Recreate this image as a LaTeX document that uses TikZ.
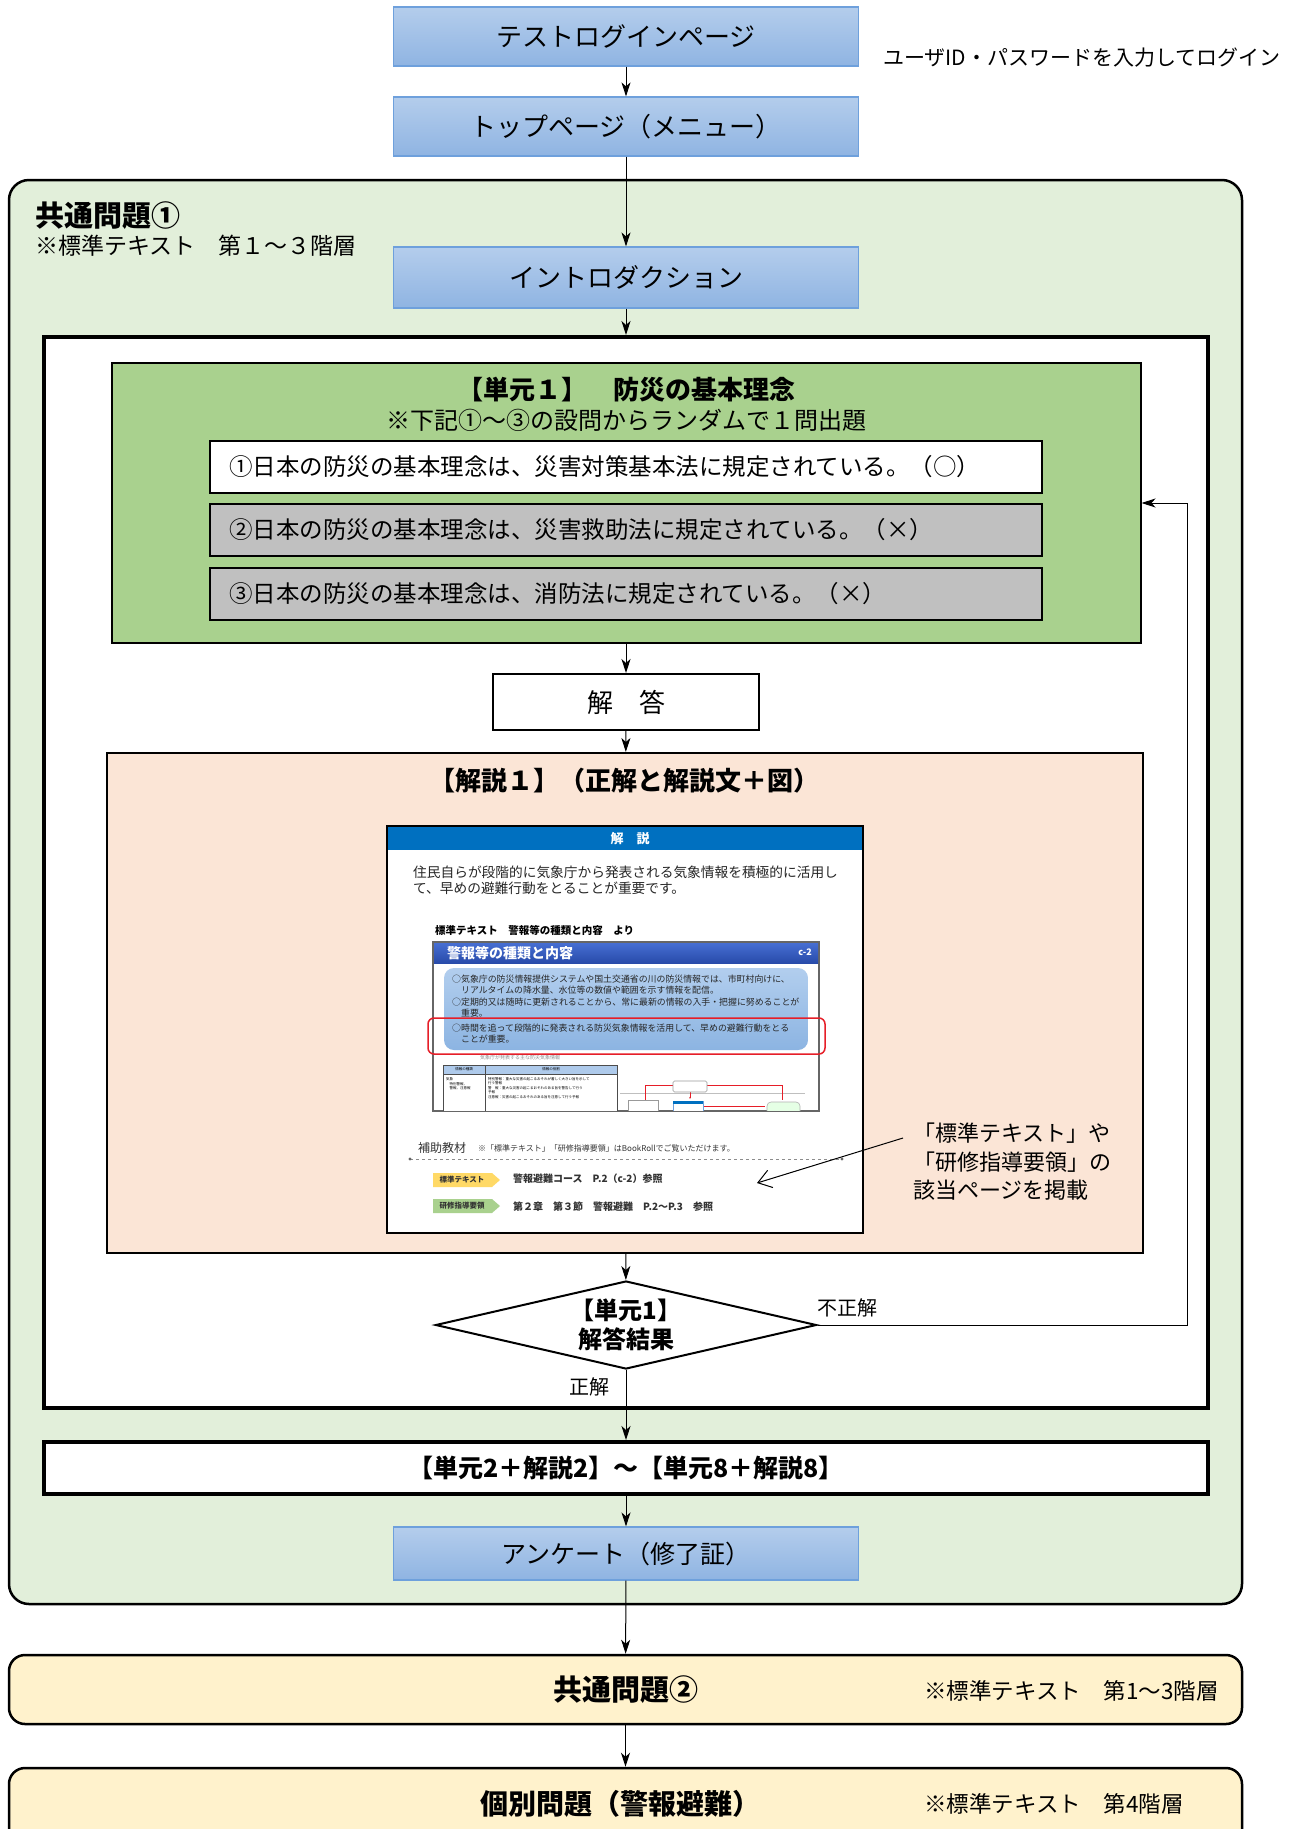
\documentclass[tikz,border=0pt]{standalone}
\usepackage{fontspec}
\setmainfont{Noto Sans CJK JP}
\usetikzlibrary{arrows.meta,shapes.geometric}

\definecolor{bluetop}{RGB}{180,205,236}
\definecolor{bluebot}{RGB}{143,180,226}
\definecolor{blueline}{RGB}{110,160,220}
\definecolor{framegreen}{RGB}{226,239,218}
\definecolor{unitgreen}{RGB}{169,209,142}
\definecolor{optgray}{RGB}{192,192,192}
\definecolor{notepeach}{RGB}{251,229,214}
\definecolor{laneyellow}{RGB}{255,242,204}
\definecolor{shotblue}{RGB}{0,112,192}
\definecolor{shotheadtop}{RGB}{70,110,210}
\definecolor{shotheadbot}{RGB}{40,75,170}
\definecolor{shotpaletop}{RGB}{178,206,238}
\definecolor{shotpalebot}{RGB}{140,180,226}
\definecolor{shotred}{RGB}{230,30,40}
\definecolor{tagyellow}{RGB}{255,217,102}
\definecolor{taggreen}{RGB}{169,209,142}

\newcommand\fsz[2]{\fontsize{#1}{#2}\selectfont}

\begin{document}
\begin{tikzpicture}[x=1pt, y=-1pt,
    bluebox/.style={draw=blueline, line width=1.2pt, top color=bluetop, bottom color=bluebot, minimum width=465pt, minimum height=59pt, inner sep=0pt, font=\fsz{26}{30}},
    plainbox/.style={draw, line width=2pt, fill=white, inner sep=0pt},
    optbox/.style={draw, line width=2pt, fill=optgray, minimum width=832pt, minimum height=52pt, inner xsep=19pt, inner ysep=0pt, text width=794pt, align=left, font=\fsz{23.5}{28}},
    lane/.style={draw, line width=2.5pt, rounded corners=16pt, fill=laneyellow, minimum width=1233pt, minimum height=69pt, inner sep=0pt},
    arr/.style={-{Stealth[length=14pt, width=9pt, inset=4pt]}, line width=1pt},
    lbl/.style={inner sep=0pt, font=\fsz{20}{24}},
    shottxt/.style={inner sep=0pt, anchor=west, align=left}]

\useasboundingbox (0,0) rectangle (1304,1829);
\clip (0,0) rectangle (1304,1829);

% login and menu
\node[bluebox] (login) at (626,36.5) {テストログインページ};
\node[anchor=west, inner sep=0pt, font=\fsz{21}{25}] (loginnote) at (883,58) {ユーザID・パスワードを入力してログイン};
\node[bluebox] (menu) at (626,126.5) {トップページ（メニュー）};

% common part 1
\node[draw, line width=2.5pt, rounded corners=20pt, fill=framegreen, minimum width=1233pt, minimum height=1424pt] (common1) at (625.5,892) {};
\node[anchor=west, inner sep=0pt, font=\bfseries\fsz{29}{34}] (c1title) at (35,216) {共通問題①};
\node[anchor=west, inner sep=0pt, font=\fsz{23}{26}] (c1note) at (35,246) {※標準テキスト　第１～３階層};
\node[bluebox, minimum height=61pt] (intro) at (626,277.5) {イントロダクション};

\node[plainbox, line width=4pt, minimum width=1164pt, minimum height=1071pt] (unitframe) at (626,872.5) {};

% unit 1 questions
\node[plainbox, fill=unitgreen, minimum width=1029pt, minimum height=280pt] (unit1) at (626,503) {};
\node[inner sep=0pt, font=\bfseries\fsz{26}{30}] (unit1title) at (626,390) {【単元１】　防災の基本理念};
\node[inner sep=0pt, font=\fsz{24}{28}] (unit1sub) at (626,420) {※下記①～③の設問からランダムで１問出題};
\node[optbox, fill=white] (q1) at (626,467) {①日本の防災の基本理念は、災害対策基本法に規定されている。（○）};
\node[optbox] (q2) at (626,530) {②日本の防災の基本理念は、災害救助法に規定されている。（×）};
\node[optbox] (q3) at (626,593.5) {③日本の防災の基本理念は、消防法に規定されている。（×）};

\node[plainbox, minimum width=266pt, minimum height=56pt, font=\fsz{26}{30}] (answer) at (626,702) {解　答};

% explanation
\node[plainbox, fill=notepeach, minimum width=1036pt, minimum height=500pt] (expl) at (625,1003) {};
\node[inner sep=0pt, font=\bfseries\fsz{26}{30}] (expltitle) at (624,781) {【解説１】（正解と解説文＋図）};

% explanation slide
\node[draw, line width=1.5pt, fill=white, minimum width=476pt, minimum height=407pt, inner sep=0pt] (slide) at (625,1029.5) {};
\fill[shotblue] (388,827) rectangle (862,850);
\node[inner sep=0pt, text=white, font=\bfseries\fsz{13}{15}] (slidehead) at (630,839) {解　説};
\node[shottxt, text=black!85, font=\fsz{13.7}{16}] (slidetext) at (413,880) {住民自らが段階的に気象庁から発表される気象情報を積極的に活用し\\て、早めの避難行動をとることが重要です。};
\node[shottxt, font=\bfseries\fsz{10.5}{12}] (slidesrc) at (435,930) {標準テキスト　警報等の種類と内容　より};
\draw[black!60, line width=1.5pt, fill=white] (433,942) rectangle (819,1111);
\shade[top color=shotheadtop, bottom color=shotheadbot] (434,943) rectangle (818,963);
\node[shottxt, text=white, font=\bfseries\fsz{14}{16}] (pagetitle) at (447,953) {警報等の種類と内容};
\node[inner sep=0pt, anchor=east, text=white, font=\bfseries\fsz{9}{11}] (pageno) at (812,952) {c-2};
\shade[top color=shotpaletop, bottom color=shotpalebot, rounded corners=10pt] (444,968) rectangle (808,1050);
\node[shottxt, text=black!85, font=\fsz{8.9}{11.6}] (bullets) at (452,1009) {○気象庁の防災情報提供システムや国土交通省の川の防災情報では、市町村向けに、\\　リアルタイムの降水量、水位等の数値や範囲を示す情報を配信。\\○定期的又は随時に更新されることから、常に最新の情報の入手・把握に努めることが\\　重要。\\[2.5pt]○時間を追って段階的に発表される防災気象情報を活用して、早めの避難行動をとる\\　ことが重要。};
\draw[shotred, line width=1.5pt, rounded corners=6pt] (428,1018) rectangle (825,1054);
\node[shottxt, text=black!45, font=\fsz{5}{6}] (tablecap) at (480,1058) {気象庁が発表する主な防災気象情報};
\begin{scope}
  \clip (433,1060) rectangle (819,1110.5);
  \draw[black!70, line width=0.8pt, fill=white] (443,1065) rectangle (617,1120);
  \fill[shotpalebot!70] (443.5,1065.5) rectangle (616.5,1074);
  \draw[black!70, line width=0.8pt] (443,1074) -- (617,1074) (485,1065) -- (485,1120);
  \node[inner sep=0pt, font=\fsz{3.5}{4}] (th1) at (464,1069.5) {情報の種類};
  \node[inner sep=0pt, font=\fsz{3.5}{4}] (th2) at (551,1069.5) {情報の役割};
  \node[shottxt, font=\fsz{3.5}{4.4}] (td1) at (446,1084) {気象\\　特別警報、\\　警報、注意報};
  \node[shottxt, font=\fsz{3.5}{4.6}] (td2) at (488,1088) {特別警報：重大な災害の起こるおそれが著しく大きい旨を示して\\行う警報\\警　報：重大な災害の起こるおそれのある旨を警告して行う\\予報\\注意報：災害の起こるおそれのある旨を注意して行う予報};
  \draw[black!25, line width=0.6pt] (620,1093) -- (805,1093);
  \draw[shotred, line width=0.8pt] (645,1110) -- (645,1085) -- (673,1085) (707,1085) -- (782,1085) -- (782,1100);
  \draw[shotred, line width=0.6pt, -{Stealth[length=2pt]}] (690,1092) -- (690,1099);
  \draw[shotred, line width=0.8pt] (703,1106) -- (765,1106);
  \draw[black!40, line width=0.6pt, fill=white, rounded corners=1.5pt] (673,1081) rectangle (707,1092);
  \draw[blueline, line width=0.8pt, fill=white] (673,1101) rectangle (703,1112);
  \fill[shotblue] (673,1101) rectangle (703,1104);
  \draw[black!40, line width=0.6pt, fill=white] (628,1100) rectangle (658,1112);
  \draw[black!30, line width=0.6pt, fill=green!10, rounded corners=4pt] (767,1102) rectangle (800,1115);
\end{scope}
\node[shottxt, text=black!80, font=\fsz{12}{14}] (subtitle) at (418,1148) {補助教材};
\node[shottxt, text=black!80, font=\fsz{8}{10}] (subnote) at (478,1148) {※「標準テキスト」「研修指導要領」はBookRollでご覧いただけます。};
\draw[black!45, dashed, line width=0.7pt] (410,1159) -- (842,1159);
\fill[black!60] (410,1159) circle (1.6) (842,1159) circle (1.6);
\fill[tagyellow] (433,1173) -- (492,1173) -- (500,1180) -- (492,1187) -- (433,1187) -- cycle;
\node[inner sep=0pt, text=black!80, font=\bfseries\fsz{7.5}{9}] (tag1) at (462,1180) {標準テキスト};
\node[shottxt, text=black!80, font=\bfseries\fsz{10}{12}] (ref1) at (513,1179) {警報避難コース　P.2（c-2）参照};
\fill[taggreen] (433,1199) -- (492,1199) -- (500,1206) -- (492,1213) -- (433,1213) -- cycle;
\node[inner sep=0pt, text=black!80, font=\bfseries\fsz{7.5}{9}] (tag2) at (462,1206) {研修指導要領};
\node[shottxt, text=black!80, font=\bfseries\fsz{10}{12}] (ref2) at (513,1207) {第２章　第３節　警報避難　P.2～P.3　参照};

\node[anchor=west, align=left, inner sep=0pt, font=\fsz{22}{28.5}] (callout) at (913,1162) {「標準テキスト」や\\「研修指導要領」の\\該当ページを掲載};
\coordinate (calltip) at (757,1183);

% result
\node[draw, diamond, line width=2pt, fill=white, aspect=4.33, inner sep=0pt, minimum width=381pt, minimum height=88pt, align=center, font=\bfseries\fsz{24}{29}] (result) at (626,1325) {【単元1】\\解答結果};
\node[lbl] (wronglbl) at (847,1308) {不正解};
\node[lbl] (rightlbl) at (589,1387) {正解};
\coordinate (back) at (1187,1325);

\node[plainbox, line width=4pt, minimum width=1164pt, minimum height=52pt, font=\bfseries\fsz{25}{29}] (units28) at (626,1468) {【単元2＋解説2】～【単元8＋解説8】};
\node[bluebox, minimum height=53pt, font=\fsz{25}{29}] (survey) at (626,1553.5) {アンケート（修了証）};

% common part 2 and individual part
\node[lane, font=\bfseries\fsz{29}{34}] (common2) at (625.5,1689.5) {共通問題②};
\node[anchor=west, inner sep=0pt, font=\fsz{22.5}{26}] (c2note) at (924,1691) {※標準テキスト　第1～3階層};
\node[lane, minimum height=100pt] (kobetsu) at (625.5,1818) {};
\node[inner sep=0pt, font=\bfseries\fsz{28}{33}] (kobetsutitle) at (620,1804) {個別問題（警報避難）};
\node[anchor=west, inner sep=0pt, font=\fsz{22.5}{26}] (kobetsunote) at (924,1804) {※標準テキスト　第4階層};

% connectors
\draw[arr] (login) -- (menu);
\draw[arr] (menu) -- (intro);
\draw[arr] (intro) -- (unitframe.north);
\draw[arr] (unit1) -- (answer);
\draw[arr] (answer) -- (expl);
\draw[arr] (expl) -- (result);
\draw[arr] (result.east) -- (back) |- (unit1.east);
\draw[arr] (result) -- (units28);
\draw[arr] (units28) -- (survey);
\draw[arr] (survey) -- (common2);
\draw[arr] (common2) -- (kobetsu);
\draw[-{Straight Barb[length=13pt, width=18pt]}, line width=1pt] ([xshift=-10pt, yshift=24pt]callout.west) -- (calltip);
\end{tikzpicture}
\end{document}
